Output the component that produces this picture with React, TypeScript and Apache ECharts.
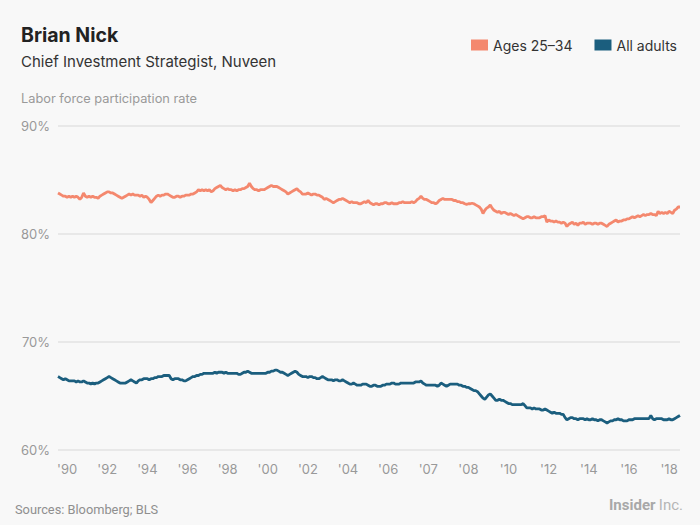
import React, { useEffect, useRef } from "react";
import * as echarts from "echarts";

const startYear = 1990;
const monthCount = 342; // Jan 1990 – Jun 2018

const tickLabels = ["'90", "'92", "'94", "'96", "'98", "'00", "'02", "'04", "'06", "'07", "'08", "'10", "'12", "'14", "'16", "'18"];

const ages25to34 = [
  83.8, 83.7, 83.6, 83.5, 83.5, 83.4, 83.5, 83.4, 83.5, 83.4, 83.5, 83.4,
  83.2, 83.4, 83.8, 83.5, 83.4, 83.5, 83.4, 83.5, 83.4, 83.4, 83.3, 83.5,
  83.6, 83.7, 83.8, 83.9, 83.9, 83.8, 83.8, 83.7, 83.6, 83.5, 83.4, 83.3,
  83.4, 83.5, 83.6, 83.7, 83.6, 83.7, 83.6, 83.6, 83.6, 83.5, 83.6, 83.4,
  83.5, 83.4, 83.2, 82.9, 83.1, 83.3, 83.5, 83.6, 83.5, 83.6, 83.6, 83.7,
  83.7, 83.6, 83.5, 83.4, 83.4, 83.5, 83.5, 83.4, 83.5, 83.5, 83.6, 83.6,
  83.6, 83.7, 83.7, 83.8, 83.9, 84.1, 84.0, 84.1, 84.0, 84.1, 84.0, 84.1,
  83.9, 84.0, 84.2, 84.3, 84.4, 84.5, 84.3, 84.2, 84.1, 84.2, 84.1, 84.1,
  84.0, 84.1, 84.0, 84.1, 84.1, 84.2, 84.2, 84.3, 84.4, 84.7, 84.4, 84.2,
  84.1, 84.1, 84.0, 84.1, 84.1, 84.1, 84.2, 84.3, 84.4, 84.5, 84.4, 84.4,
  84.4, 84.3, 84.2, 84.1, 84.0, 83.9, 83.7, 83.8, 83.9, 84.0, 84.1, 84.2,
  84.0, 83.9, 83.7, 83.7, 83.7, 83.8, 83.7, 83.6, 83.7, 83.7, 83.6, 83.6,
  83.5, 83.4, 83.2, 83.3, 83.2, 83.1, 83.0, 82.9, 83.0, 83.1, 83.2, 83.2,
  83.3, 83.2, 83.1, 83.0, 82.9, 83.0, 82.9, 82.9, 82.9, 82.8, 82.8, 82.9,
  83.0, 82.9, 83.1, 82.9, 82.8, 82.7, 82.8, 82.8, 82.7, 82.8, 82.8, 82.9,
  82.9, 82.8, 82.8, 82.9, 82.8, 82.8, 82.8, 82.9, 82.9, 83.0, 82.9, 82.9,
  82.9, 82.9, 83.0, 82.9, 83.0, 83.2, 83.3, 83.5, 83.3, 83.2, 83.2, 83.1,
  83.0, 82.9, 82.9, 82.8, 82.9, 83.1, 83.2, 83.3, 83.2, 83.2, 83.2, 83.2,
  83.2, 83.1, 83.1, 83.0, 83.0, 82.9, 82.9, 82.8, 82.75, 82.8, 82.8, 82.85,
  82.8, 82.7, 82.6, 82.5, 82.3, 81.9, 82.2, 82.4, 82.5, 82.7, 82.4, 82.2,
  82.1, 82.0, 82.1, 81.9, 82.0, 82.0, 81.9, 81.8, 81.9, 81.8, 81.7, 81.8,
  81.7, 81.6, 81.5, 81.4, 81.5, 81.6, 81.6, 81.5, 81.5, 81.6, 81.5, 81.5,
  81.5, 81.6, 81.6, 81.7, 81.1, 81.3, 81.2, 81.2, 81.1, 81.2, 81.1, 81.1,
  81.0, 81.1, 81.0, 80.7, 80.9, 81.0, 81.1, 80.9, 81.0, 80.8, 81.0, 81.0,
  81.1, 80.9, 81.0, 81.0, 81.0, 80.9, 81.0, 81.0, 80.9, 81.0, 81.0, 80.9,
  80.8, 80.7, 80.9, 81.0, 81.1, 81.2, 81.3, 81.1, 81.2, 81.2, 81.3, 81.3,
  81.4, 81.4, 81.5, 81.6, 81.5, 81.6, 81.7, 81.6, 81.7, 81.8, 81.7, 81.8,
  81.8, 81.9, 81.8, 81.8, 81.7, 82.1, 81.9, 82.0, 81.9, 82.0, 81.9, 82.1,
  82.0, 81.9, 82.2, 82.3, 82.5, 82.5,
];

const allAdults = [
  66.8, 66.7, 66.6, 66.5, 66.6, 66.5, 66.4, 66.4, 66.4, 66.4, 66.3, 66.4,
  66.3, 66.3, 66.4, 66.3, 66.2, 66.2, 66.1, 66.2, 66.1, 66.2, 66.2, 66.3,
  66.4, 66.5, 66.6, 66.7, 66.8, 66.7, 66.6, 66.5, 66.4, 66.3, 66.2, 66.2,
  66.2, 66.2, 66.3, 66.4, 66.5, 66.4, 66.3, 66.2, 66.4, 66.5, 66.5, 66.6,
  66.6, 66.6, 66.5, 66.6, 66.6, 66.7, 66.7, 66.8, 66.8, 66.8, 66.9, 66.9,
  66.9, 66.9, 66.6, 66.5, 66.6, 66.6, 66.6, 66.5, 66.5, 66.4, 66.4, 66.5,
  66.6, 66.7, 66.8, 66.8, 66.9, 66.9, 67.0, 67.0, 67.1, 67.1, 67.1, 67.1,
  67.1, 67.1, 67.2, 67.1, 67.2, 67.2, 67.2, 67.1, 67.2, 67.1, 67.1, 67.1,
  67.1, 67.1, 67.1, 67.0, 67.0, 67.1, 67.2, 67.2, 67.3, 67.2, 67.1, 67.1,
  67.1, 67.1, 67.1, 67.1, 67.1, 67.1, 67.1, 67.2, 67.2, 67.3, 67.3, 67.4,
  67.4, 67.3, 67.2, 67.2, 67.1, 67.0, 66.9, 67.0, 67.1, 67.2, 67.3, 67.2,
  67.0, 66.9, 66.8, 66.8, 66.8, 66.7, 66.8, 66.8, 66.7, 66.7, 66.6, 66.6,
  66.7, 66.8, 66.7, 66.6, 66.5, 66.5, 66.5, 66.4, 66.5, 66.5, 66.4, 66.4,
  66.5, 66.4, 66.3, 66.2, 66.1, 66.1, 66.2, 66.1, 66.0, 66.0, 66.0, 66.1,
  66.1, 66.1, 66.0, 65.9, 65.9, 66.0, 66.0, 65.9, 65.9, 65.9, 66.0, 66.0,
  66.1, 66.1, 66.1, 66.2, 66.2, 66.1, 66.1, 66.1, 66.2, 66.2, 66.2, 66.2,
  66.2, 66.2, 66.2, 66.2, 66.3, 66.3, 66.3, 66.4, 66.2, 66.1, 66.0, 66.0,
  66.0, 66.0, 66.0, 66.0, 65.9, 66.0, 66.2, 66.1, 66.0, 65.9, 66.0, 66.1,
  66.1, 66.1, 66.1, 66.1, 66.0, 66.0, 65.9, 65.9, 65.8, 65.8, 65.7, 65.6,
  65.5, 65.5, 65.4, 65.2, 65.0, 64.8, 64.7, 64.9, 65.1, 65.2, 65.0, 64.8,
  64.6, 64.6, 64.7, 64.6, 64.6, 64.5, 64.4, 64.3, 64.3, 64.2, 64.2, 64.2,
  64.2, 64.2, 64.2, 64.3, 64.1, 63.9, 63.9, 63.9, 63.8, 63.9, 63.8, 63.8,
  63.8, 63.7, 63.7, 63.8, 63.7, 63.6, 63.5, 63.4, 63.5, 63.4, 63.4, 63.4,
  63.3, 63.3, 63.0, 62.8, 62.9, 63.0, 63.0, 62.9, 62.9, 62.8, 62.9, 62.9,
  62.9, 62.8, 62.9, 62.8, 62.8, 62.9, 62.8, 62.8, 62.7, 62.8, 62.8, 62.7,
  62.6, 62.5, 62.6, 62.7, 62.7, 62.8, 62.8, 62.9, 62.8, 62.8, 62.7, 62.7,
  62.7, 62.8, 62.8, 62.8, 62.9, 62.9, 62.9, 62.9, 62.9, 62.9, 62.9, 62.9,
  62.9, 63.2, 62.9, 62.8, 62.9, 62.9, 62.9, 62.9, 62.8, 62.8, 62.8, 62.9,
  62.8, 62.8, 62.9, 63.0, 63.1, 63.2,
];

const months: string[] = [];
for (let i = 0; i < monthCount; i++) {
  const y = startYear + Math.floor(i / 12);
  const m = (i % 12) + 1;
  months.push(`${y}-${m < 10 ? "0" + m : m}`);
}

const labelStart = 5;
const labelStep = 22;

const ORANGE = "#f4886e";
const BLUE = "#1b5e7e";
const FONT = "Inter, 'Noto Sans', sans-serif";
const NARROW = "Roboto, sans-serif";

export default function App() {
  const ref = useRef<HTMLDivElement>(null);
  useEffect(() => {
    if (!ref.current) return;
    const chart = echarts.init(ref.current, null, { renderer: "svg" });
    chart.setOption({
      animation: false,
      backgroundColor: "#f8f8f8",
      textStyle: { fontFamily: FONT },
      title: [
        {
          text: "Brian Nick",
          left: 16,
          top: 20,
          textStyle: { fontSize: 19.5, fontWeight: "bold", color: "#222", fontFamily: FONT },
        },
        {
          text: "Chief Investment Strategist, Nuveen",
          left: 16,
          top: 49,
          textStyle: { fontSize: 15, fontWeight: "normal", color: "#333", fontFamily: FONT },
        },
        {
          text: "Labor force participation rate",
          left: 16,
          top: 87,
          textStyle: { fontSize: 12.8, fontWeight: "normal", color: "#9a9a9a", fontFamily: FONT },
        },
        {
          text: "Sources: Bloomberg; BLS",
          left: 10,
          top: 498,
          textStyle: { fontSize: 12.8, fontWeight: "normal", color: "#8f8f8f", fontFamily: NARROW },
        },
      ],
      graphic: [
        {
          type: "text",
          right: 17,
          top: 497,
          style: {
            text: "{b|Insider} {l|Inc.}",
            rich: {
              b: { fontSize: 15, fontWeight: "bold", fill: "#a8a8a8", fontFamily: NARROW },
              l: { fontSize: 15, fontWeight: "normal", fill: "#b5b5b5", fontFamily: NARROW },
            },
          },
        },
      ],
      legend: {
        right: 18,
        top: 33,
        icon: "rect",
        itemWidth: 17,
        itemHeight: 11,
        itemGap: 22,
        textStyle: { fontSize: 14, color: "#333", fontFamily: FONT },
        data: ["Ages 25–34", "All adults"],
      },
      grid: { left: 58, right: 20, top: 126, bottom: 75 },
      xAxis: {
        type: "category",
        data: months,
        boundaryGap: false,
        axisLine: { show: false },
        axisTick: { show: false },
        splitLine: { show: false },
        axisLabel: {
          color: "#999",
          fontSize: 13,
          margin: 12,
          interval: (index: number) => index >= labelStart && (index - labelStart) % labelStep === 0,
          formatter: (_v: string, index: number) => tickLabels[Math.round((index - labelStart) / labelStep)] ?? "",
        },
      },
      yAxis: {
        type: "value",
        min: 60,
        max: 90,
        interval: 10,
        axisLine: { show: false },
        axisTick: { show: false },
        axisLabel: { color: "#999", fontSize: 13, margin: 8, formatter: "{value}%" },
        splitLine: { lineStyle: { color: "#e3e3e3", width: 1.5 } },
      },
      series: [
        {
          name: "Ages 25–34",
          type: "line",
          data: ages25to34,
          symbol: "none",
          color: ORANGE,
          lineStyle: { width: 2.8, color: ORANGE },
        },
        {
          name: "All adults",
          type: "line",
          data: allAdults,
          symbol: "none",
          color: BLUE,
          lineStyle: { width: 2.8, color: BLUE },
        },
      ],
    });
    return () => chart.dispose();
  }, []);
  return (
    <div
      ref={ref}
      style={{ position: "fixed", left: 0, top: 0, width: 700, height: 525 }}
    />
  );
}
